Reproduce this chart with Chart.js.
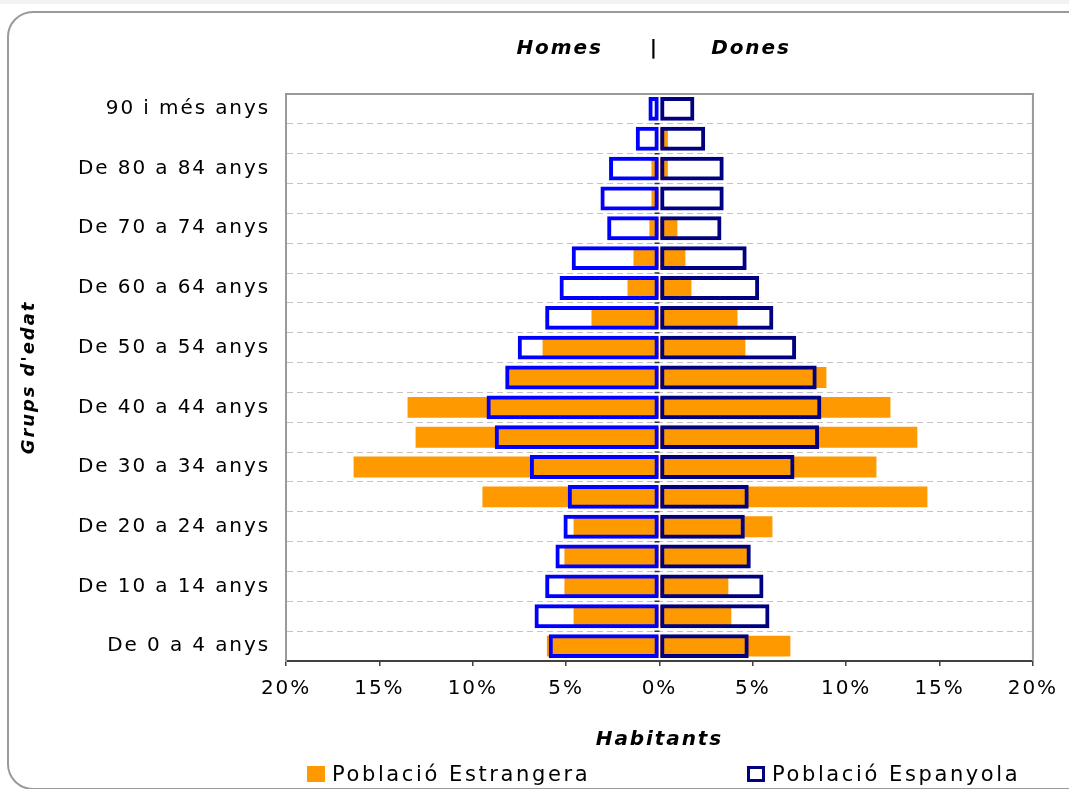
<!DOCTYPE html>
<html>
<head>
<meta charset="utf-8">
<title>Piràmide de població</title>
<script src="https://cdn.jsdelivr.net/npm/chart.js@4.4.1/dist/chart.umd.min.js"></script>
<style>
	html, body { margin: 0; padding: 0; background: #fff; }
	body { width: 1069px; height: 789px; overflow: hidden; position: relative; font-family: 'DejaVu Sans', sans-serif; }
	.band { position: absolute; left: 0; top: 0; width: 1069px; height: 4px; background: #f2f2f2; }
	.frame { position: absolute; left: 7px; top: 11px; width: 1100px; height: 779px; border: 2px solid #9a9a9a; border-radius: 26px; box-sizing: border-box; }
	#wrap { position: absolute; left: 0; top: 0; width: 1069px; height: 789px; }
	#legend { position: absolute; top: 761px; height: 26px; display: flex; align-items: center; padding-left: 21px; box-sizing: border-box; font-size: 21px; letter-spacing: 2.6px; color: #000; }
	#legend .item { display: flex; align-items: center; white-space: nowrap; }
	#legend .item:first-child { width: 440px; }
	#legend .box { width: 18px; height: 16px; margin-right: 7px; box-sizing: border-box; }
</style>
</head>
<body>
<div class="band"></div>
<div class="frame"></div>
<div id="wrap"><canvas id="pyramid"></canvas></div>
<div id="legend"></div>
<script>
// age groups, youngest first (drawn bottom-up)
const ageGroups = [
	'De 0 a 4 anys', 'De 5 a 9 anys', 'De 10 a 14 anys', 'De 15 a 19 anys',
	'De 20 a 24 anys', 'De 25 a 29 anys', 'De 30 a 34 anys', 'De 35 a 39 anys',
	'De 40 a 44 anys', 'De 45 a 49 anys', 'De 50 a 54 anys', 'De 55 a 59 anys',
	'De 60 a 64 anys', 'De 65 a 69 anys', 'De 70 a 74 anys', 'De 75 a 79 anys',
	'De 80 a 84 anys', 'De 85 a 89 anys', '90 i més anys'
];

// % of each population
const menForeign = [6.03, 4.6, 5.09, 5.09, 4.6, 9.48, 16.38, 13.06, 13.49, 8.1, 6.26, 3.64, 1.71, 1.39, 0.54, 0.43, 0.43, 0, 0];
const menSpanish = [5.93, 6.69, 6.12, 5.57, 5.14, 4.91, 6.94, 8.82, 9.26, 8.26, 7.59, 6.12, 5.35, 4.7, 2.8, 3.16, 2.7, 1.27, 0.59];
const womenForeign = [7.01, 3.85, 3.69, 4.71, 6.05, 14.35, 11.62, 13.81, 12.37, 8.94, 4.6, 4.18, 1.71, 1.39, 0.96, 0, 0.45, 0.45, 0];
const womenSpanish = [4.78, 5.89, 5.57, 4.89, 4.57, 4.78, 7.23, 8.55, 8.67, 8.42, 7.32, 6.1, 5.34, 4.67, 3.32, 3.44, 3.44, 2.45, 1.87];

const xTicks = [-20, -15, -10, -5, 0, 5, 10, 15, 20];
const sideLabels = ['Homes', '|', 'Dones'];
const sideValues = [-5.35, -0.27, 4.9];

const ORANGE = '#ff9900';
const BLUE = '#0000ff';
const NAVY = '#000080';
const SPACING = '1.9px';

Chart.defaults.font.family = "'DejaVu Sans', sans-serif";
Chart.defaults.font.size = 20;
Chart.defaults.color = '#000';

// canvas letter spacing is reset whenever the canvas is resized
const letterSpacing = {
	id: 'letterSpacing',
	beforeUpdate(chart) { chart.ctx.letterSpacing = SPACING; },
	beforeDraw(chart) { chart.ctx.letterSpacing = SPACING; }
};

const plotFrame = {
	id: 'plotFrame',
	beforeDatasetsDraw(chart) {
		const { ctx, chartArea: a, scales: { x } } = chart;
		const x0 = x.getPixelForValue(0);
		const n = ageGroups.length;
		ctx.save();
		ctx.strokeStyle = '#333';
		ctx.lineWidth = 1.5;
		ctx.beginPath();
		for (let k = 1; k < n; k++) {
			const py = a.top + k * (a.bottom - a.top) / n;
			ctx.moveTo(x0 - 5, py);
			ctx.lineTo(x0, py);
		}
		ctx.stroke();
		ctx.restore();
	},
	afterDatasetsDraw(chart) {
		const { ctx, chartArea: a } = chart;
		ctx.save();
		ctx.strokeStyle = '#999';
		ctx.lineWidth = 2;
		ctx.beginPath();
		ctx.moveTo(a.left, a.top);
		ctx.lineTo(a.right, a.top);
		ctx.lineTo(a.right, a.bottom);
		ctx.stroke();
		ctx.restore();
	}
};

const sideTitles = {
	id: 'sideTitles',
	afterDraw(chart) {
		const { ctx, chartArea: a, scales: { x } } = chart;
		ctx.save();
		ctx.letterSpacing = SPACING;
		ctx.font = "italic bold 20px 'DejaVu Sans', sans-serif";
		ctx.fillStyle = '#000';
		ctx.textAlign = 'center';
		ctx.textBaseline = 'middle';
		sideLabels.forEach((t, i) => ctx.fillText(t, x.getPixelForValue(sideValues[i]), a.top - 45));
		ctx.restore();
	}
};

// html legend, one entry per label
const htmlLegend = {
	id: 'htmlLegend',
	afterUpdate(chart) {
		const el = document.getElementById('legend');
		const a = chart.chartArea;
		el.style.left = a.left + 'px';
		el.style.width = (chart.width - a.left) + 'px';
		const seen = {};
		chart.data.datasets.forEach(ds => { seen[ds.label] = ds; });
		const order = chart.data.datasets.map(ds => ds.label).filter((l, i, arr) => arr.indexOf(l) === i);
		el.innerHTML = '';
		order.forEach(label => {
			const ds = seen[label];
			const item = document.createElement('div');
			item.className = 'item';
			const box = document.createElement('span');
			box.className = 'box';
			if (ds.borderWidth) {
				box.style.border = '3px solid ' + ds.borderColor;
			} else {
				box.style.background = ds.backgroundColor;
			}
			const txt = document.createElement('span');
			txt.textContent = label;
			item.appendChild(box);
			item.appendChild(txt);
			el.appendChild(item);
		});
	}
};

const common = { categoryPercentage: 1, grouped: false };

new Chart(document.getElementById('pyramid'), {
	type: 'bar',
	data: {
		labels: ageGroups,
		datasets: [
			{ ...common, label: 'Població Estrangera', data: menForeign.map(v => -v), backgroundColor: ORANGE, borderWidth: 0, barPercentage: 0.7, order: 2 },
			{ ...common, label: 'Població Estrangera', data: womenForeign, backgroundColor: ORANGE, borderWidth: 0, barPercentage: 0.7, order: 2 },
			{ ...common, label: 'Població Espanyola', data: menSpanish.map(v => -v), backgroundColor: 'rgba(0,0,0,0)', borderColor: BLUE, borderWidth: 4, borderSkipped: false, barPercentage: 0.8, order: 1 },
			{ ...common, label: 'Població Espanyola', data: womenSpanish, backgroundColor: 'rgba(0,0,0,0)', borderColor: NAVY, borderWidth: 4, borderSkipped: false, barPercentage: 0.8, order: 1 }
		]
	},
	options: {
		indexAxis: 'y',
		responsive: true,
		maintainAspectRatio: false,
		animation: false,
		layout: { padding: { top: 94, right: 36, bottom: 37, left: 0 } },
		plugins: {
			legend: { display: false },
			tooltip: {
				callbacks: { label: c => c.dataset.label + ': ' + Math.abs(c.raw).toFixed(2) + '%' }
			}
		},
		scales: {
			x: {
				min: -20,
				max: 20,
				afterBuildTicks: s => { s.ticks = xTicks.map(v => ({ value: v })); },
				ticks: { padding: 11, callback: v => Math.abs(v) + '%' },
				grid: { drawOnChartArea: false, drawTicks: true, tickLength: 5, color: '#404040', lineWidth: 1.5 },
				border: { color: '#404040', width: 2 },
				title: {
					display: true, text: 'Habitants',
					font: { size: 20, weight: 'bold', style: 'italic' },
					padding: { top: 16, bottom: 0 }
				}
			},
			y: {
				reverse: true,
				afterFit: s => { s.width = 286; },
				ticks: {
					autoSkip: false,
					padding: 16,
					callback: function (v, i) { return i % 2 === 0 ? this.getLabelForValue(v) : ''; }
				},
				grid: { color: '#c4c4c4', lineWidth: 1, drawTicks: false, offset: true },
				border: { color: '#999', width: 2, dash: [6, 4] },
				title: {
					display: true, text: "Grups d'edat",
					font: { size: 18, weight: 'bold', style: 'italic' },
					padding: { top: 19, bottom: 0 }
				}
			}
		}
	},
	plugins: [letterSpacing, plotFrame, sideTitles, htmlLegend]
});
</script>
</body>
</html>
